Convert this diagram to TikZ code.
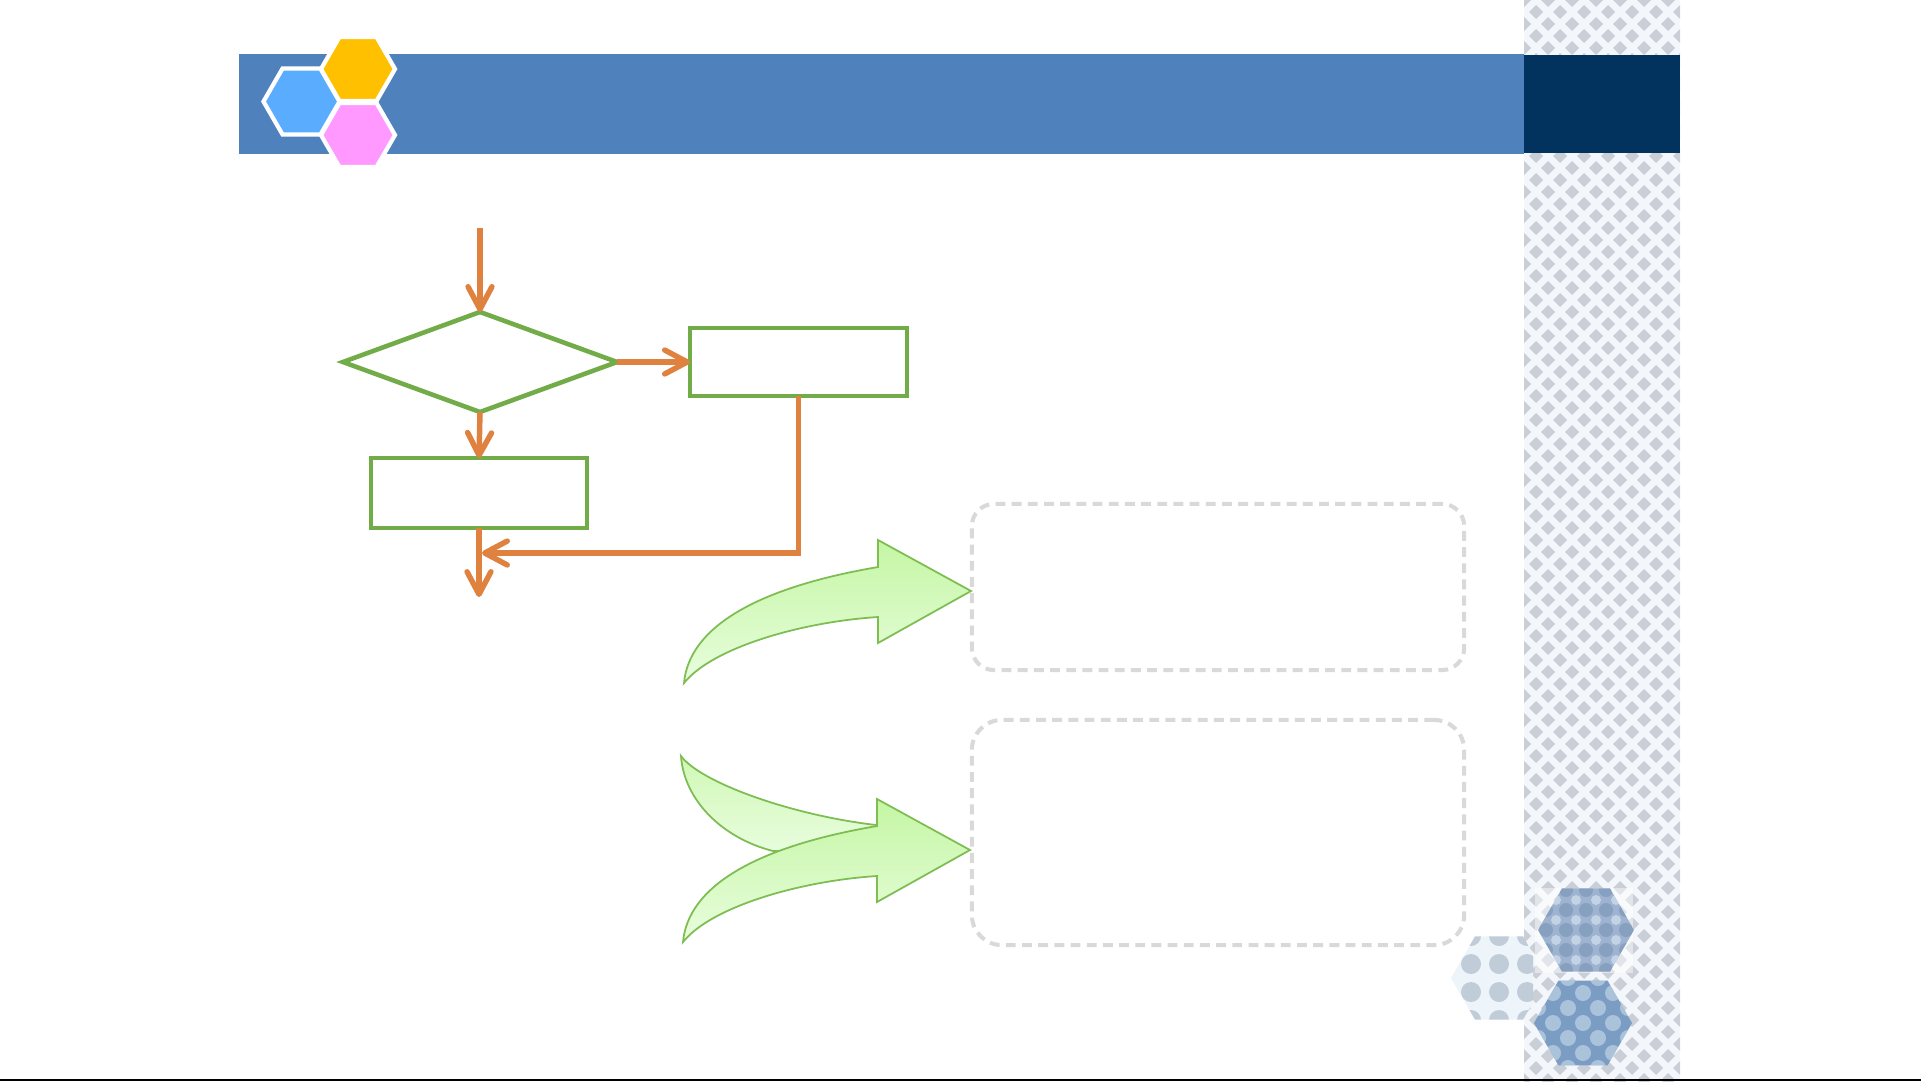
\documentclass[tikz,border=0pt]{standalone}
\usetikzlibrary{arrows.meta,shapes.geometric}
\definecolor{hdrblue}{HTML}{4F81BD}
\definecolor{navy}{HTML}{02335F}
\definecolor{hexblue}{HTML}{5AACFF}
\definecolor{hexorange}{HTML}{FFC000}
\definecolor{hexpink}{HTML}{FF99FF}
\definecolor{flowor}{HTML}{E0823F}
\definecolor{flowgr}{HTML}{72AC48}
\definecolor{dashgray}{HTML}{D9D9D9}
\definecolor{arrgreen}{HTML}{7DBD52}
\definecolor{arrtop}{HTML}{C4F6A4}
\definecolor{arrbot}{HTML}{E8FDDD}
\definecolor{stripbg}{HTML}{F3F6FA}
\definecolor{stripdot}{HTML}{A3A8B3}
\definecolor{hexAbase}{HTML}{9DB3CF}
\definecolor{hexAdark}{HTML}{5E7EA6}
\definecolor{hexAlight}{HTML}{E6F3FB}
\definecolor{hexBbase}{HTML}{EEF5FA}
\definecolor{hexBdark}{HTML}{7D8FA5}
\definecolor{hexCbase}{HTML}{7C9DC3}
\definecolor{hexClight}{HTML}{E2F2FA}
\tikzset{
  flowbox/.style={draw=flowgr, line width=1.3pt, rectangle, inner sep=0pt, outer sep=0pt},
  flowdia/.style={draw=flowgr, line width=1.3pt, diamond, inner sep=0pt, outer sep=0pt},
  flowline/.style={draw=flowor, line width=1.55pt},
  flowarr/.style={flowline, -{Straight Barb[length=6.4pt,width=6.8pt,round]}},
  dbox/.style={draw=dashgray, line width=1.15pt, dash pattern=on 2.8pt off 1.8pt, rectangle, inner sep=0pt},
  bigarrow/.style={draw=arrgreen, line width=0.5pt, top color=arrtop, bottom color=arrbot},
  hexagon/.style={regular polygon, regular polygon sides=6, inner sep=0pt, outer sep=0pt},
  hexw/.style={hexagon, draw=white, line width=1.2pt},
}
\begin{document}
\begin{tikzpicture}[x=0.01cm,y=-0.01cm]
\useasboundingbox (0,0) rectangle (1921,1081);
\fill[white] (0,0) rectangle (1921,1081);

% checkered strip
\begin{scope}
  \clip (1524,0) rectangle (1680,1081);
  \fill[stripbg] (1524,0) rectangle (1680,1081);
  \foreach \j in {0,...,91}{
    \foreach \i in {0,...,7}{
      \fill[stripdot, opacity=.5] ({1524+24*\i+12*mod(\j,2)},{12*\j}) +(-7,0) -- +(0,-7) -- +(7,0) -- +(0,7) -- cycle;
    }
  }
\end{scope}

% header bar
\fill[hdrblue] (239,54) rectangle (1524,154);
\fill[navy] (1524,55) rectangle (1680,153);

% header hexagons
\node[hexw, fill=hexblue, minimum size=0.76cm] (hb) at (301.5,101.5) {};
\node[hexw, fill=hexorange, minimum size=0.74cm] (ho) at (358,69) {};
\node[hexw, fill=hexpink, minimum size=0.74cm] (hp) at (358,135) {};

% flowchart
\coordinate (s) at (480,228);
\node[flowdia, minimum width=2.74cm, minimum height=1cm] (dec) at (480,362) {};
\node[flowbox, minimum width=2.17cm, minimum height=0.68cm] (p1) at (798.5,362) {};
\node[flowbox, minimum width=2.16cm, minimum height=0.70cm] (p2) at (479,493) {};
\coordinate (e) at (479,597);
\coordinate (m) at (482,553);
\draw[flowarr] (s) -- (dec.north);
\draw[flowarr] (dec.east) -- (p1.west);
\draw[flowarr] (dec.south) -- (p2.north);
\draw[flowarr] (p2.south) -- (e);
\draw[flowarr] (p1.south) |- (m);

% green curved arrows
\path[bigarrow] (684,683) .. controls (689,628) and (755,588) .. (878,567) -- (878,540) -- (971,591) -- (878,643) -- (878,617) .. controls (800,622) and (712,648) .. (684,683) -- cycle;
\path[bigarrow, top color=arrtop!80!white, bottom color=arrbot] (681,756) .. controls (700,782) and (790,815) .. (876,825) -- (876,850) -- (773,851) .. controls (722,838) and (684,800) .. (681,756) -- cycle;
\begin{scope}[shift={(-1,259)}]
\path[bigarrow] (684,683) .. controls (689,628) and (755,588) .. (878,567) -- (878,540) -- (971,591) -- (878,643) -- (878,617) .. controls (800,622) and (712,648) .. (684,683) -- cycle;
\end{scope}

% dashed boxes
\node[dbox, rounded corners=0.22cm, minimum width=4.92cm, minimum height=1.66cm] (b1) at (1218,587) {};
\node[dbox, rounded corners=0.3cm, minimum width=4.92cm, minimum height=2.25cm] (b2) at (1218,832.5) {};

% decorative hexagons bottom right
\fill[white, opacity=.45] (1535,888) rectangle (1633,973);
\node[hexagon, fill=hexAbase, minimum size=0.96cm, path picture={
  \foreach \i in {-3,...,3}{\foreach \j in {-3,...,3}{
    \fill[hexAdark, opacity=.35] ({20*\i},{20*\j}) circle (7);
    \fill[hexAlight, opacity=.5] ({20*\i+10},{20*\j+10}) circle (5);
  }}}] (hx1) at (1586,930) {};
\begin{scope}
  \clip (1451,936) rectangle (1533,1021);
  \node[hexagon, fill=hexBbase, minimum size=0.96cm, path picture={
    \foreach \i in {-2,...,2}{\foreach \j in {-2,...,2}{
      \fill[hexBdark, opacity=.4] ({28*\i},{28*\j+14}) circle (10);
    }}}] (hx2) at (1499,978) {};
\end{scope}
\node[hexagon, fill=hexCbase, minimum size=0.98cm, path picture={
  \foreach \i in {-2,...,2}{\foreach \j in {-4,...,4}{
    \fill[hexClight, opacity=.45] ({30*\i+15*mod(abs(\j),2)},{15*\j}) circle (8);
  }}}] (hx3) at (1583,1023) {};

% bottom rule
\draw[black, line width=0.6pt] (0,1080) -- (1921,1080);
\end{tikzpicture}
\end{document}
